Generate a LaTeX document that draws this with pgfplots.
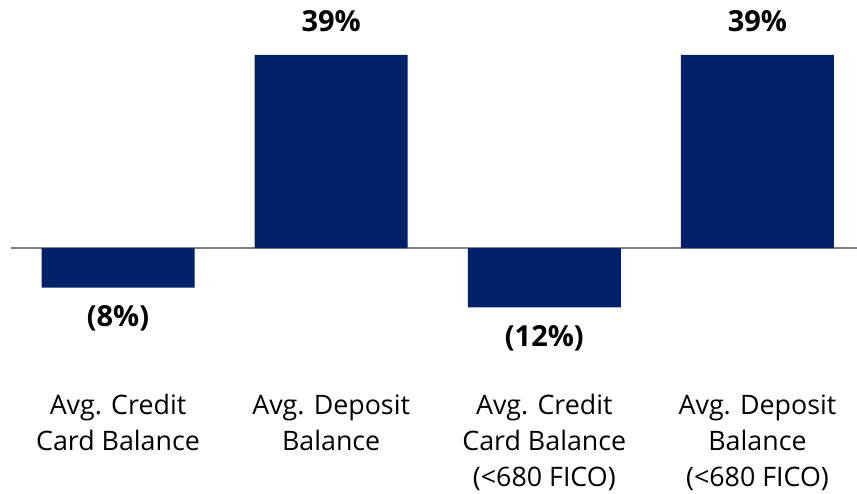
\documentclass[border=0pt]{standalone}
\usepackage{pgfplots}
\pgfplotsset{compat=1.18}
\usepackage{fontspec}
\setmainfont{Open Sans}
\definecolor{navy}{HTML}{012169}
\definecolor{zline}{HTML}{808080}
\begin{document}
\begin{tikzpicture}
\useasboundingbox (0,0) rectangle (428.5pt,246.5pt);
\begin{axis}[
  at={(5.5pt,87.85pt)}, anchor=south west,
  scale only axis, width=423pt, height=138.6pt,
  xmin=-0.502, xmax=3.467, ymin=-14, ymax=42,
  axis line style={draw=none}, major tick length=0pt, clip=false,
  /pgf/number format/assume math mode=true,
  ybar, bar width=76.5pt,
  xtick={0,1,2,3},
  xticklabels={{Avg. Credit\\Card Balance\\\strut},{Avg. Deposit\\Balance\\\strut},{Avg. Credit\\Card Balance\\(<680 FICO)},{Avg. Deposit\\Balance\\(<680 FICO)}},
  xticklabel style={align=center, anchor=base, yshift=-84.35pt, font=\fontsize{13.4}{17.8}\selectfont},
  ytick=\empty,
]
\draw[zline, line width=1pt] (axis cs:-0.502,0) -- (axis cs:3.467,0);
\addplot[fill=navy, draw=none, bar shift=0pt, point meta=explicit,
  nodes near coords={\textbf{\pgfmathprintnumber{\pgfplotspointmeta}\%}},
  nodes near coords style={anchor=base, yshift=11.5pt, font=\fontsize{14.5}{16}\selectfont\bfseries}]
  coordinates {(1,39) [39] (3,39) [39]};
\addplot[fill=navy, draw=none, bar shift=0pt, point meta=explicit,
  nodes near coords={\textbf{(\pgfmathprintnumber{\pgfplotspointmeta}\%)}},
  nodes near coords style={anchor=base, yshift=-19.5pt, font=\fontsize{14.5}{16}\selectfont\bfseries}]
  coordinates {(0,-8) [8] (2,-12) [12]};
\end{axis}
\end{tikzpicture}
\end{document}
